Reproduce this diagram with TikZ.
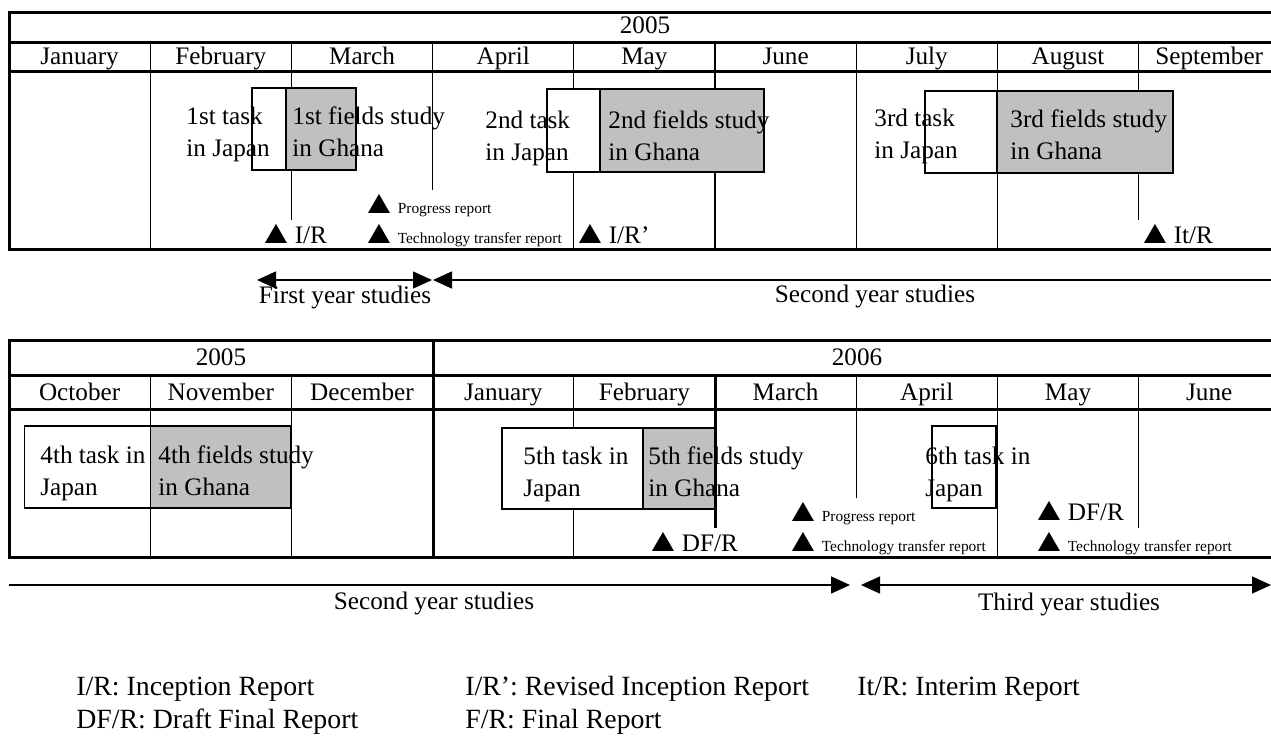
\documentclass[tikz,border=0pt]{standalone}
\usepackage{fontspec}
\usepackage{graphicx}
\setmainfont{Liberation Serif}
\usetikzlibrary{arrows.meta}
\definecolor{fieldgray}{RGB}{192,192,192}
\newcommand{\tri}{\hspace{-4.5pt}\scalebox{1.5}[1.3]{▲}}
\newcommand{\repfont}{\fontsize{7.7}{9}\selectfont}

\begin{document}
\begin{tikzpicture}[x=0.5pt,y=-0.5pt,
    >={Triangle[length=9.5pt,width=8.5pt]},
    frame/.style={line width=1.5pt},
    rule/.style={line width=0.55pt},
    period/.style={line width=0.7pt},
    taskbox/.style={draw,line width=0.7pt,fill=white},
    fieldbox/.style={draw,line width=0.7pt,fill=fieldgray},
    txt/.style={inner sep=0pt,anchor=base,font=\fontsize{12.6}{16}\selectfont},
    boxtxt/.style={txt,anchor=base west,align=left},
    rep/.style={txt,anchor=base west},
    legend/.style={inner sep=0pt,anchor=base west,font=\fontsize{13.9}{17}\selectfont}]
      \useasboundingbox (0,0) rectangle (1271,740);
      \draw [frame] (1271,12) -- (9,12) -- (9,249) -- (1271,249);
      \draw [frame] (9,42) -- (1271,42) (9,71) -- (1271,71);
      \foreach \k/\e in {1/249,2/220,3/190,4/249,5/249,6/249,7/249,8/220}{
      \draw [rule] ({9+141.2*\k},42) -- ({9+141.2*\k},\e); }
      \node [txt] (yearA) at (645,33) {2005};
      \foreach \m [count=\k from 0] in {January,February,March,April,May,June,July,August,September}{
      \node [txt] (monA\k) at ({9+141.2*(\k+0.5)},64.5) {\m}; }
      \draw [taskbox] (252,88) rectangle (286,170);
      \draw [fieldbox] (286,88) rectangle (356,170);
      \draw [taskbox] (547,89) rectangle (600,172);
      \draw [fieldbox] (600,89) rectangle (764,172);
      \draw [taskbox] (925,91) rectangle (997,173);
      \draw [fieldbox] (997,91) rectangle (1173,173);
      \node [boxtxt] (taskA) at (186,156) {1st task\\in Japan};
      \node [boxtxt] (fieldA) at (292,156) {1st fields study\\in Ghana};
      \node [boxtxt] (taskB) at (485,160) {2nd task\\in Japan};
      \node [boxtxt] (fieldB) at (608,160) {2nd fields study\\in Ghana};
      \node [boxtxt] (taskC) at (874,158) {3rd task\\in Japan};
      \node [boxtxt] (fieldC) at (1010,159) {3rd fields study\\in Ghana};
      \node [rep] (irA) at (266,243) {\tri I/R};
      \node [rep] (progA) at (369,213) {\tri{\repfont Progress report}};
      \node [rep] (techA) at (369,243) {\tri{\repfont Technology transfer report}};
      \node [rep] (irB) at (580,243) {\tri I/R’};
      \node [rep] (itR) at (1145,243) {\tri It/R};
      \coordinate (firstL) at (257,280);
      \coordinate (firstR) at (432,280);
      \coordinate (secondL) at (433,280);
      \coordinate (secondR) at (1271,280);
      \draw [period,<->] (firstL) -- (firstR);
      \draw [period,<-] (secondL) -- (secondR);
      \node [txt] (firstYear) at (345,303) {First year studies};
      \node [txt] (secondYearA) at (875,302) {Second year studies};

      \draw [frame] (1271,340) -- (9,340) -- (9,557) -- (1271,557);
      \draw [frame] (9,375) -- (1271,375) (9,409) -- (1271,409);
      \draw [frame] (433,340) -- (433,557);
      \foreach \k/\e in {1/557,2/557,4/557,6/498,7/557,8/528}{
      \draw [rule] ({9+141.2*\k},375) -- ({9+141.2*\k},\e); }
      \node [txt] (yearB) at (221,365) {2005};
      \node [txt] (yearC) at (857,365) {2006};
      \foreach \m [count=\k from 0] in {October,November,December,January,February,March,April,May,June}{
      \node [txt] (monB\k) at ({9+141.2*(\k+0.5)},400) {\m}; }
      \draw [taskbox] (24.5,426) rectangle (150.2,508);
      \draw [fieldbox] (150.2,426) rectangle (291,508);
      \draw [taskbox] (502,428) rectangle (643,509);
      \draw [fieldbox] (643,428) rectangle (715,509);
      \draw [taskbox] (932,426) rectangle (996,508);
      \draw [frame] (715,375) -- (715,528);
      \node [boxtxt] (taskD) at (40,495) {4th task in\\Japan};
      \node [boxtxt] (fieldD) at (158,495) {4th fields study\\in Ghana};
      \node [boxtxt] (taskE) at (523,496) {5th task in\\Japan};
      \node [boxtxt] (fieldE) at (648,496) {5th fields study\\in Ghana};
      \node [boxtxt] (taskF) at (925,496) {6th task in\\Japan};
      \node [rep] (dfrA) at (653,551) {\tri DF/R};
      \node [rep] (progB) at (793,521) {\tri{\repfont Progress report}};
      \node [rep] (techB) at (793,551) {\tri{\repfont Technology transfer report}};
      \node [rep] (dfrB) at (1039,520) {\tri DF/R};
      \node [rep] (techC) at (1039,551) {\tri{\repfont Technology transfer report}};
      \coordinate (secondL2) at (9,585);
      \coordinate (secondR2) at (850,585);
      \coordinate (thirdL) at (861,585);
      \coordinate (thirdR) at (1271,585);
      \draw [period,->] (secondL2) -- (secondR2);
      \draw [period,<->] (thirdL) -- (thirdR);
      \node [txt] (secondYearB) at (434,609) {Second year studies};
      \node [txt] (thirdYear) at (1069,610) {Third year studies};

      \node [legend] (legIR) at (76,695) {I/R: Inception Report};
      \node [legend] (legIRr) at (465,695) {I/R’: Revised Inception Report};
      \node [legend] (legItR) at (857,695) {It/R: Interim Report};
      \node [legend] (legDFR) at (76,728) {DF/R: Draft Final Report};
      \node [legend] (legFR) at (465,728) {F/R: Final Report};
\end{tikzpicture}
\end{document}
